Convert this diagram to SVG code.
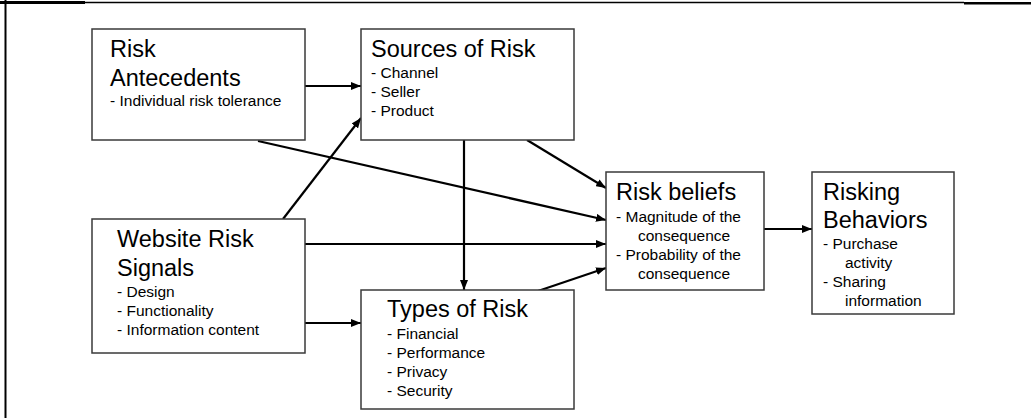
<svg xmlns="http://www.w3.org/2000/svg" width="1031" height="418" viewBox="0 0 1031 418">
<style>
.box{fill:#fff;stroke:#3a3a3a;stroke-width:1.5}
.t{font-family:"Liberation Sans",Arial,sans-serif;font-size:23.5px;fill:#000}
.s{font-family:"Liberation Sans",Arial,sans-serif;font-size:15.5px;fill:#000}
.c{stroke:#000;stroke-width:2.2;fill:none}
.a{marker-end:url(#ah)}
</style>
<defs>
<marker id="ah" viewBox="0 0 10 8" refX="10" refY="4" markerWidth="10" markerHeight="8" markerUnits="userSpaceOnUse" orient="auto">
<path d="M0,0 L10,4 L0,8 Z" fill="#000"/>
</marker>
</defs>
<rect width="1031" height="418" fill="#fff"/>
<g id="frame">
<line x1="0" y1="2.5" x2="85" y2="2.5" stroke="#000" stroke-width="3"/>
<line x1="85" y1="2.5" x2="964" y2="2.5" stroke="#000" stroke-width="1.5"/>
<line x1="964" y1="3.3" x2="1031" y2="3.3" stroke="#000" stroke-width="2.5"/>
<line x1="5.5" y1="0" x2="5.5" y2="418" stroke="#000" stroke-width="2"/>
</g>
<g id="connectors">
<line class="c a" x1="305" y1="86" x2="361" y2="86"/>
<line class="c a" x1="283" y1="219" x2="361" y2="118"/>
<line class="c a" x1="258" y1="141" x2="606" y2="220"/>
<line class="c a" x1="527" y1="140" x2="606" y2="188"/>
<line class="c a" x1="305" y1="244" x2="606" y2="244"/>
<line class="c a" x1="464" y1="140" x2="464" y2="290"/>
<line class="c a" x1="305" y1="323" x2="361" y2="323"/>
<line class="c a" x1="535" y1="292" x2="606" y2="268"/>
<line class="c a" x1="764" y1="229" x2="812" y2="229"/>
</g>
<g id="risk-antecedents">
<rect class="box" x="92" y="29" width="213" height="111"/>
<text class="t" x="110" y="57">Risk</text>
<text class="t" x="110" y="86">Antecedents</text>
<text class="s" x="110" y="106">- Individual risk tolerance</text>
</g>
<g id="sources-of-risk">
<rect class="box" x="361" y="29" width="213" height="111"/>
<text class="t" x="371" y="57">Sources of Risk</text>
<text class="s" x="371" y="78">- Channel</text>
<text class="s" x="371" y="97">- Seller</text>
<text class="s" x="371" y="116">- Product</text>
</g>
<g id="website-risk-signals">
<rect class="box" x="92" y="219" width="213" height="134"/>
<text class="t" x="117" y="247">Website Risk</text>
<text class="t" x="117" y="276">Signals</text>
<text class="s" x="117" y="297">- Design</text>
<text class="s" x="117" y="316">- Functionality</text>
<text class="s" x="117" y="335">- Information content</text>
</g>
<g id="types-of-risk">
<rect class="box" x="361" y="290" width="213" height="119"/>
<text class="t" x="387" y="317">Types of Risk</text>
<text class="s" x="387" y="339">- Financial</text>
<text class="s" x="387" y="358">- Performance</text>
<text class="s" x="387" y="377">- Privacy</text>
<text class="s" x="387" y="396">- Security</text>
</g>
<g id="risk-beliefs">
<rect class="box" x="606" y="172" width="158" height="118"/>
<text class="t" x="616" y="200">Risk beliefs</text>
<text class="s" x="616" y="222">- Magnitude of the</text>
<text class="s" x="638" y="241">consequence</text>
<text class="s" x="616" y="260">- Probability of the</text>
<text class="s" x="638" y="279">consequence</text>
</g>
<g id="risking-behaviors">
<rect class="box" x="812" y="172" width="142" height="142"/>
<text class="t" x="823" y="200">Risking</text>
<text class="t" x="823" y="228">Behaviors</text>
<text class="s" x="823" y="249">- Purchase</text>
<text class="s" x="845" y="268">activity</text>
<text class="s" x="823" y="287">- Sharing</text>
<text class="s" x="845" y="306">information</text>
</g>
</svg>
